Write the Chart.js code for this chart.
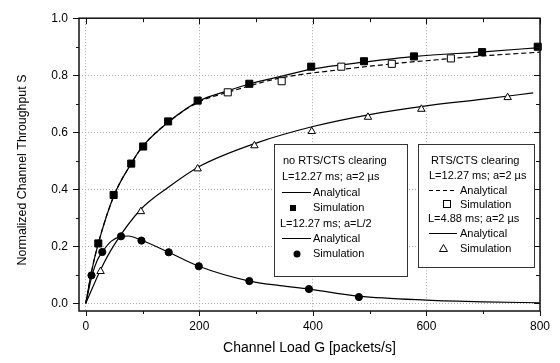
<!DOCTYPE html>
<html lang="en">
<head>
<meta charset="UTF-8">
<title>Normalized Channel Throughput</title>
<style>
  body { margin: 0; background: #fff; }
  #chart { display: block; }
</style>
</head>
<body>
<canvas id="chart" width="560" height="363"></canvas>
<script src="https://cdn.jsdelivr.net/npm/chart.js"></script>
<script>
  // analytical, no RTS/CTS clearing, L=12.27 ms, a=2 us
  const anaNoClrG = [0, 10, 22, 50, 80, 100, 145, 200, 250, 290, 342, 400, 490, 580, 700, 800];
  const anaNoClrS = [0, 0.11, 0.21, 0.38, 0.49, 0.55, 0.635, 0.71, 0.745, 0.77, 0.795, 0.822, 0.846, 0.866, 0.882, 0.897];
  // analytical, RTS/CTS clearing, L=12.27 ms, a=2 us (dashed)
  const anaClrG = [0, 10, 22, 50, 80, 100, 145, 200, 250, 342, 450, 540, 640, 700, 800];
  const anaClrS = [0, 0.11, 0.21, 0.38, 0.49, 0.55, 0.635, 0.707, 0.74, 0.79, 0.82, 0.84, 0.858, 0.868, 0.881];
  // analytical, L=4.88 ms, a=2 us
  const anaShortG = [0, 26, 50, 97, 146, 200, 300, 400, 500, 590, 700, 788];
  const anaShortS = [0, 0.118, 0.205, 0.33, 0.408, 0.48, 0.562, 0.62, 0.662, 0.69, 0.716, 0.738];
  // analytical, no RTS/CTS clearing, L=12.27 ms, a=L/2
  const anaHalfG = [0, 11, 20, 29, 45, 62, 75, 97, 145, 199, 288, 342, 393, 481, 600, 700, 800];
  const anaHalfS = [0, 0.098, 0.15, 0.18, 0.218, 0.234, 0.236, 0.222, 0.18, 0.13, 0.078, 0.062, 0.05, 0.025, 0.011, 0.005, 0.002];

  // simulation points
  const simNoClrG = [22, 49, 80, 101, 145, 197, 288, 397, 490, 578, 698, 796];
  const simNoClrS = [0.21, 0.38, 0.49, 0.55, 0.638, 0.711, 0.77, 0.83, 0.849, 0.866, 0.881, 0.9];
  const simClrG = [250, 345, 450, 539, 643];
  const simClrS = [0.74, 0.779, 0.83, 0.84, 0.859];
  const simShortG = [26, 97, 197, 297, 398, 497, 591, 743];
  const simShortS = [0.112, 0.322, 0.472, 0.553, 0.603, 0.653, 0.681, 0.722];
  const simHalfG = [10, 29, 62, 98, 146, 199, 288, 393, 481];
  const simHalfS = [0.098, 0.18, 0.235, 0.22, 0.179, 0.13, 0.078, 0.05, 0.022];

  const xTicks = [0, 200, 400, 600, 800];
  const yTicks = [0, 0.2, 0.4, 0.6, 0.8, 1.0];

  const pts = (xs, ys) => xs.map((x, i) => ({ x: x, y: ys[i] }));
  const FONT = '"Liberation Sans", Arial, sans-serif';

  function curve(data, dash) {
    return {
      data: data, showLine: true, pointRadius: 0, borderColor: '#000', borderWidth: 1.2,
      borderDash: dash || [], cubicInterpolationMode: 'monotone', fill: false
    };
  }
  function markers(data, style, r, bg) {
    return {
      data: data, showLine: false, pointStyle: style, pointRadius: r, pointHoverRadius: r,
      backgroundColor: bg, borderColor: '#000', borderWidth: 1, clip: false
    };
  }

  // frame, minor/major ticks, y title and the two legend boxes
  const decor = {
    id: 'decor',
    afterDatasetsDraw(chart) {
      const c = chart.ctx, a = chart.chartArea;
      const xs = chart.scales.x, ys = chart.scales.y;
      c.save();
      c.strokeStyle = '#111';
      c.lineWidth = 1.5;
      c.strokeRect(a.left, a.top, a.right - a.left, a.bottom - a.top);
      c.lineWidth = 1;
      c.beginPath();
      for (let v = 0; v <= 800; v += 100) {
        const px = Math.round(xs.getPixelForValue(v)) + 0.5;
        const major = v % 200 === 0;
        c.moveTo(px, a.bottom); c.lineTo(px, a.bottom + (major ? 5 : 3));
        c.moveTo(px, a.top); c.lineTo(px, a.top + (major ? 6 : 4));
      }
      for (let i = 0; i <= 10; i++) {
        const py = Math.round(ys.getPixelForValue(i / 10)) + 0.5;
        const major = i % 2 === 0;
        c.moveTo(a.left, py); c.lineTo(a.left - (major ? 6 : 3), py);
        c.moveTo(a.right, py); c.lineTo(a.right - (major ? 6 : 4), py);
      }
      c.stroke();

      // y axis title
      c.save();
      c.translate(23, 170);
      c.rotate(-Math.PI / 2);
      c.fillStyle = '#000';
      c.font = '12.4px ' + FONT;
      c.textAlign = 'center';
      c.textBaseline = 'middle';
      c.fillText('Normalized Channel Throughput S', 0, 0);
      c.restore();

      // legend boxes
      c.fillStyle = '#fff';
      c.strokeStyle = '#333';
      c.lineWidth = 1;
      c.fillRect(274, 144, 133, 132);
      c.strokeRect(274.5, 144.5, 133, 132);
      c.fillRect(418, 144, 116, 123);
      c.strokeRect(418.5, 144.5, 116, 123);

      c.fillStyle = '#000';
      c.font = '11px ' + FONT;
      c.textBaseline = 'middle';
      c.textAlign = 'left';
      const txt = (s, x, y) => c.fillText(s, x, y);
      const seg = (x1, x2, y, dash) => {
        c.save(); c.setLineDash(dash || []); c.lineWidth = 1; c.strokeStyle = '#000';
        c.beginPath(); c.moveTo(x1, y + 0.5); c.lineTo(x2, y + 0.5); c.stroke(); c.restore();
      };

      txt('no RTS/CTS clearing', 283, 161);
      txt('L=12.27 ms; a=2 \u00b5s', 282, 177);
      seg(282, 311, 192); txt('Analytical', 313, 192.5);
      c.fillRect(290, 205, 6, 6); txt('Simulation', 313, 208);
      txt('L=12.27 ms; a=L/2', 280, 223.5);
      seg(282, 311, 238); txt('Analytical', 313, 238.5);
      c.beginPath(); c.arc(297, 254, 3.5, 0, Math.PI * 2); c.fill(); txt('Simulation', 313, 254);

      txt('RTS/CTS clearing', 431, 161);
      txt('L=12.27 ms; a=2 \u00b5s', 429, 176);
      seg(429, 457, 190, [4, 3]); txt('Analytical', 460, 190.5);
      c.strokeStyle = '#000';
      c.strokeRect(443.5, 200.5, 7, 7); txt('Simulation', 460, 204.5);
      txt('L=4.88 ms; a=2 \u00b5s', 428, 219);
      seg(429, 457, 233); txt('Analytical', 460, 233.5);
      c.beginPath(); c.moveTo(443.5, 244.5); c.lineTo(447.5, 251.5); c.lineTo(439.5, 251.5); c.closePath(); c.stroke();
      txt('Simulation', 460, 248.5);
      c.restore();
    }
  };

  const gridColor = '#aaa';

  new Chart(document.getElementById('chart').getContext('2d'), {
    type: 'scatter',
    data: {
      datasets: [
        markers(pts(simNoClrG, simNoClrS), 'rect', 5, '#000'),
        markers(pts(simClrG, simClrS), 'rect', 5, '#fff'),
        markers(pts(simShortG, simShortS), 'triangle', 4.3, '#fff'),
        markers(pts(simHalfG, simHalfS), 'circle', 3.6, '#000'),
        curve(pts(anaNoClrG, anaNoClrS)),
        curve(pts(anaClrG, anaClrS), [5, 3]),
        curve(pts(anaShortG, anaShortS)),
        curve(pts(anaHalfG, anaHalfS))
      ]
    },
    options: {
      responsive: false,
      animation: false,
      layout: { padding: { top: 9, right: 20, left: 0, bottom: 0 } },
      plugins: { legend: { display: false }, tooltip: { enabled: false } },
      scales: {
        x: {
          type: 'linear', min: -12, max: 800,
          afterBuildTicks: s => { s.ticks = xTicks.map(v => ({ value: v })); },
          afterFit: s => { s.height = 52; },
          ticks: { color: '#000', font: { family: FONT, size: 12 }, padding: 8, maxRotation: 0, autoSkip: false },
          grid: { color: gridColor, drawTicks: false, lineWidth: 1 },
          border: { display: false, dash: [1, 2] },
          title: { display: true, text: 'Channel Load G [packets/s]', color: '#000',
                   font: { family: FONT, size: 14 }, padding: { top: 0, bottom: 6 } }
        },
        y: {
          type: 'linear', min: -0.027, max: 1.0,
          afterBuildTicks: s => { s.ticks = yTicks.map(v => ({ value: v })); },
          afterFit: s => { s.width = 79; },
          ticks: { color: '#000', font: { family: FONT, size: 12 }, padding: 11,
                   callback: v => v.toFixed(1) },
          grid: { color: gridColor, drawTicks: false, lineWidth: 1 },
          border: { display: false, dash: [1, 2] },
          title: { display: false }
        }
      }
    },
    plugins: [decor]
  });
</script>
</body>
</html>
